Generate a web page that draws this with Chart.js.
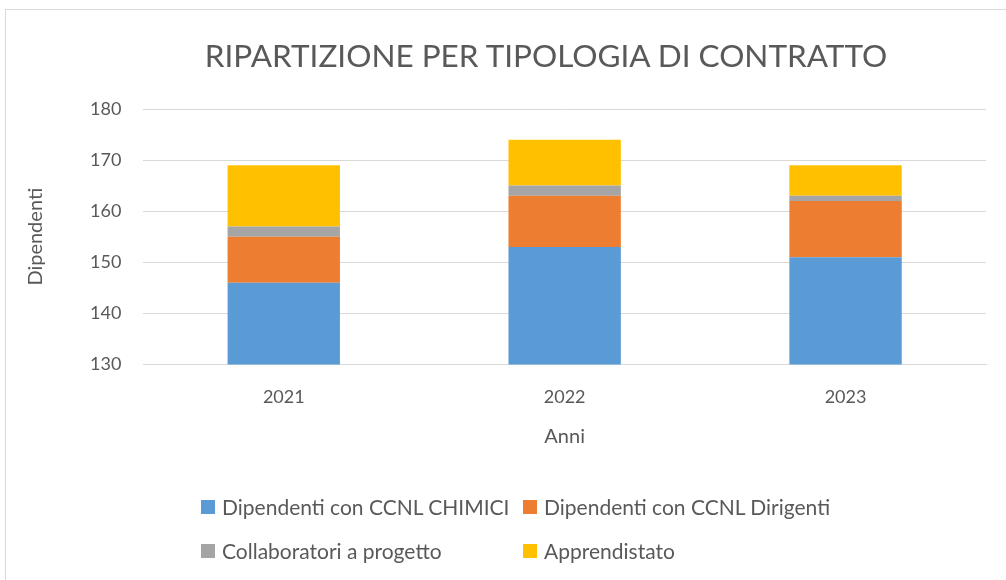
<!DOCTYPE html>
<html>
<head>
<meta charset="utf-8">
<script src="https://cdn.jsdelivr.net/npm/chart.js@4.4.0/dist/chart.umd.min.js"></script>
<style>
  html, body { margin: 0; padding: 0; background: #fff; }
  #wrap { position: relative; width: 1006px; height: 580px; overflow: hidden; }
  #frame { position: absolute; left: 5px; top: 9px; width: 1010px; height: 580px; border: 1px solid #d9d9d9; box-sizing: border-box; }
  canvas { position: absolute; left: 0; top: 0; }
  #title { position: absolute; left: 346px; width: 400px; top: 35px; text-align: center; white-space: nowrap;
           display: flex; justify-content: center;
           font-family: "Lato", "Open Sans", sans-serif; font-size: 31.5px; color: #595959; line-height: 40px; }
  #legend { position: absolute; left: 201px; top: 494px; display: grid; grid-template-columns: 322px auto; row-gap: 18px;
            font-family: "Lato", "Open Sans", sans-serif; font-size: 21px; color: #595959; line-height: 26px; }
  #legend div { display: flex; align-items: center; white-space: nowrap; }
  #legend span { display: inline-block; width: 14px; height: 14px; margin-right: 7px; }
</style>
</head>
<body>
<div id="wrap">
  <div id="frame"></div>
  <canvas id="chart" width="1006" height="580"></canvas>
  <div id="title">RIPARTIZIONE PER TIPOLOGIA DI CONTRATTO</div>
  <div id="legend"></div>
</div>
<script>
// categories and series
const years = ['2021', '2022', '2023'];
const chimici = [146, 153, 151];
const dirigenti = [9, 10, 11];
const collaboratori = [2, 2, 1];
const apprendistato = [12, 9, 6];

const seriesNames = ['Dipendenti con CCNL CHIMICI', 'Dipendenti con CCNL Dirigenti', 'Collaboratori a progetto', 'Apprendistato'];
const seriesColors = ['#5B9BD5', '#ED7D31', '#A5A5A5', '#FFC000'];
const seriesData = [chimici, dirigenti, collaboratori, apprendistato];

const textColor = '#595959';
const fontFamily = '"Lato", "Open Sans", sans-serif';

const datasets = seriesData.map((d, i) => ({
    label: seriesNames[i],
    data: d,
    backgroundColor: seriesColors[i],
    borderWidth: 0,
    barPercentage: 0.4,
    categoryPercentage: 1.0
}));

// HTML legend, two columns like the original
const legendEl = document.getElementById('legend');
seriesNames.forEach((name, i) => {
    const item = document.createElement('div');
    const box = document.createElement('span');
    box.style.background = seriesColors[i];
    item.appendChild(box);
    item.appendChild(document.createTextNode(name));
    legendEl.appendChild(item);
});

const ctx = document.getElementById('chart').getContext('2d');
new Chart(ctx, {
    type: 'bar',
    data: { labels: years, datasets: datasets },
    options: {
        responsive: false,
        animation: false,
        layout: { padding: { left: 20, right: 20, top: 109, bottom: 127 } },
        plugins: {
            legend: { display: false },
            tooltip: { enabled: false },
            title: { display: false }
        },
        scales: {
            x: {
                stacked: true,
                grid: { display: false },
                border: { display: true, color: '#d9d9d9' },
                ticks: { color: textColor, font: { family: fontFamily, size: 18 }, padding: 14 },
                title: { display: true, text: 'Anni', color: textColor, font: { family: fontFamily, size: 20 }, padding: { top: 3 } }
            },
            y: {
                stacked: true,
                min: 130,
                max: 180,
                grid: { color: '#d9d9d9', drawTicks: false },
                border: { display: false },
                ticks: { stepSize: 10, color: textColor, font: { family: fontFamily, size: 18 }, padding: 22 },
                title: { display: true, text: 'Dipendenti', color: textColor, font: { family: fontFamily, size: 20 }, padding: { bottom: 20 } }
            }
        }
    }
});
</script>
</body>
</html>
